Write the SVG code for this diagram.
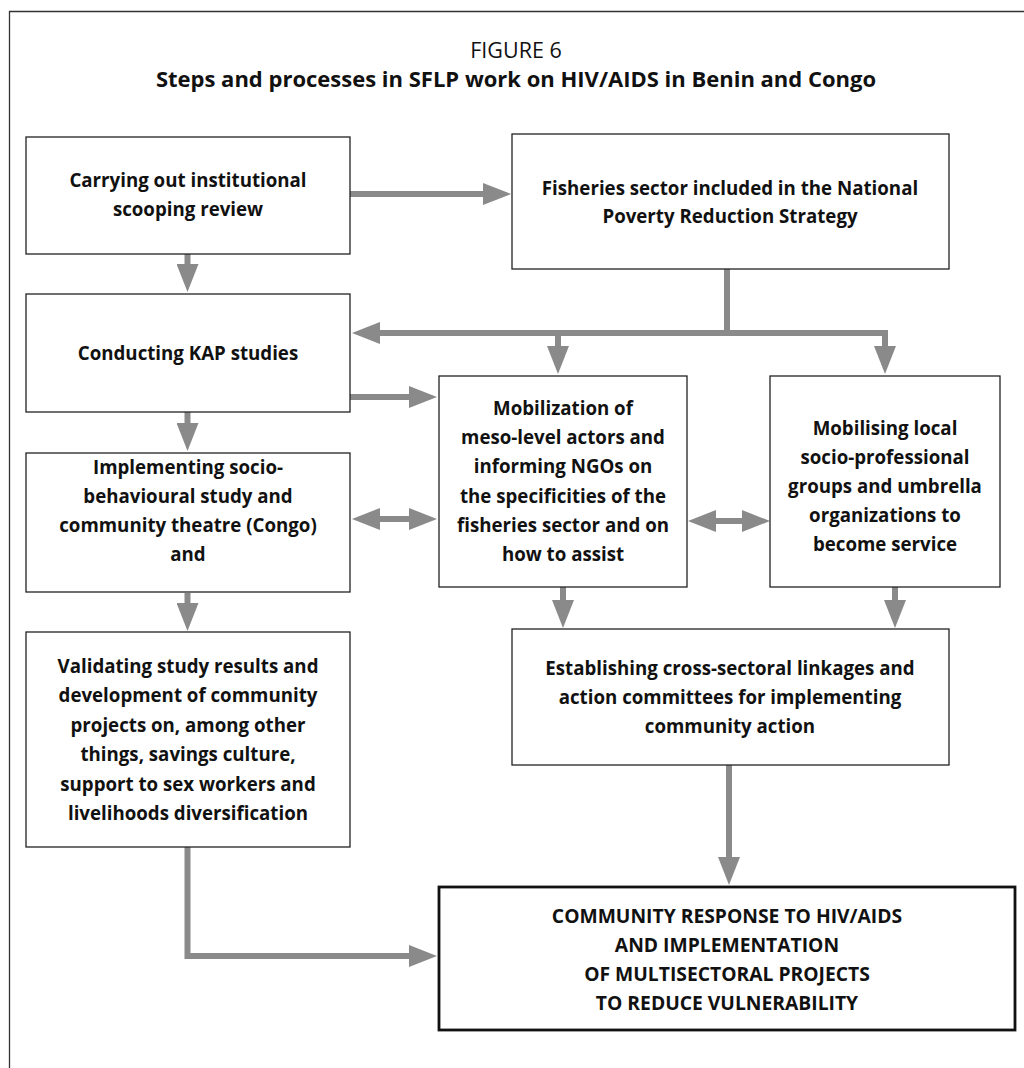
<svg xmlns="http://www.w3.org/2000/svg" width="1024" height="1068" viewBox="0 0 1024 1068">
  <style>
    .box { fill: #ffffff; stroke: #222222; stroke-width: 1.3; }
    .box-main { fill: #ffffff; stroke: #111111; stroke-width: 2.8; }
    .lbl { font-family: "Open Sans", "Noto Sans", "Liberation Sans", sans-serif; font-size: 18.7px; font-weight: bold; fill: #111111; text-anchor: middle; }
    .caps { font-size: 19.3px; }
    .title { font-family: "Open Sans", "Noto Sans", "Liberation Sans", sans-serif; fill: #111111; text-anchor: middle; }
    .conn { fill: none; stroke: #8a8a8a; stroke-width: 6; stroke-linejoin: miter; }
  </style>
  <defs>
    <marker id="head" markerUnits="userSpaceOnUse" markerWidth="28" markerHeight="22" refX="0" refY="11" orient="auto-start-reverse" viewBox="0 0 28 22">
      <path d="M0,0 L28,11 L0,22 z" fill="#8a8a8a"/>
    </marker>
  </defs>

  <rect x="0" y="0" width="1024" height="1068" fill="#ffffff"/>

  <!-- outer frame, open to the right and bottom -->
  <path d="M9.5,1070 V11.5 H1026" fill="none" stroke="#333333" stroke-width="1.3"/>

  <!-- heading -->
  <text class="title" x="516" y="58" font-size="21.5">FIGURE 6</text>
  <text class="title" x="516" y="87" font-size="22" font-weight="bold">Steps and processes in SFLP work on HIV/AIDS in Benin and Congo</text>

  <!-- connectors -->
  <g id="connectors">
    <path class="conn" d="M350,194 H483" marker-end="url(#head)"/>
    <path class="conn" d="M187.5,254 V264" marker-end="url(#head)"/>
    <path class="conn" d="M187.5,412 V423" marker-end="url(#head)"/>
    <path class="conn" d="M187.5,593 V603" marker-end="url(#head)"/>
    <path class="conn" d="M727,269 V333"/>
    <path class="conn" d="M380,333 H885 V346" marker-start="url(#head)" marker-end="url(#head)"/>
    <path class="conn" d="M558,333 V346" marker-end="url(#head)"/>
    <path class="conn" d="M350,397 H409" marker-end="url(#head)"/>
    <path class="conn" d="M380,519 H409" marker-start="url(#head)" marker-end="url(#head)"/>
    <path class="conn" d="M716,521 H742" marker-start="url(#head)" marker-end="url(#head)"/>
    <path class="conn" d="M563,587 V600" marker-end="url(#head)"/>
    <path class="conn" d="M895,587 V600" marker-end="url(#head)"/>
    <path class="conn" d="M729,765 V857" marker-end="url(#head)"/>
    <path class="conn" d="M187.5,847 V956 H409" marker-end="url(#head)"/>
  </g>

  <!-- nodes -->
  <g id="node-scoping">
    <rect class="box" x="26" y="137" width="324" height="117"/>
    <text class="lbl" x="188" y="187">Carrying out institutional</text>
    <text class="lbl" x="188" y="216">scooping review</text>
  </g>

  <g id="node-poverty-strategy">
    <rect class="box" x="512" y="134" width="437" height="135"/>
    <text class="lbl" x="730" y="195">Fisheries sector included in the National</text>
    <text class="lbl" x="730" y="223">Poverty Reduction Strategy</text>
  </g>

  <g id="node-kap">
    <rect class="box" x="26" y="294" width="324" height="118"/>
    <text class="lbl" x="188" y="360">Conducting KAP studies</text>
  </g>

  <g id="node-meso">
    <rect class="box" x="439" y="376" width="248" height="211"/>
    <text class="lbl" x="563" y="415">Mobilization of</text>
    <text class="lbl" x="563" y="444">meso-level actors and</text>
    <text class="lbl" x="563" y="473">informing NGOs on</text>
    <text class="lbl" x="563" y="503">the specificities of the</text>
    <text class="lbl" x="563" y="532">fisheries sector and on</text>
    <text class="lbl" x="563" y="561">how to assist</text>
  </g>

  <g id="node-local-groups">
    <rect class="box" x="770" y="376" width="230" height="211"/>
    <text class="lbl" x="885" y="435">Mobilising local</text>
    <text class="lbl" x="885" y="464">socio-professional</text>
    <text class="lbl" x="885" y="493">groups and umbrella</text>
    <text class="lbl" x="885" y="522">organizations to</text>
    <text class="lbl" x="885" y="551">become service</text>
  </g>

  <g id="node-socio-behavioural">
    <rect class="box" x="26" y="453" width="324" height="139"/>
    <text class="lbl" x="188" y="474">Implementing socio-</text>
    <text class="lbl" x="188" y="503">behavioural study and</text>
    <text class="lbl" x="188" y="532">community theatre (Congo)</text>
    <text class="lbl" x="188" y="561">and</text>
  </g>

  <g id="node-cross-sectoral">
    <rect class="box" x="512" y="629" width="437" height="136"/>
    <text class="lbl" x="730" y="675">Establishing cross-sectoral linkages and</text>
    <text class="lbl" x="730" y="704">action committees for implementing</text>
    <text class="lbl" x="730" y="733">community action</text>
  </g>

  <g id="node-validation">
    <rect class="box" x="26" y="632" width="324" height="215"/>
    <text class="lbl" x="188" y="673">Validating study results and</text>
    <text class="lbl" x="188" y="702">development of community</text>
    <text class="lbl" x="188" y="732">projects on, among other</text>
    <text class="lbl" x="188" y="761">things, savings culture,</text>
    <text class="lbl" x="188" y="791">support to sex workers and</text>
    <text class="lbl" x="188" y="820">livelihoods diversification</text>
  </g>

  <g id="node-community-response">
    <rect class="box-main" x="439" y="887" width="576" height="143"/>
    <text class="lbl caps" x="727" y="923">COMMUNITY RESPONSE TO HIV/AIDS</text>
    <text class="lbl caps" x="727" y="952">AND IMPLEMENTATION</text>
    <text class="lbl caps" x="727" y="981">OF MULTISECTORAL PROJECTS</text>
    <text class="lbl caps" x="727" y="1010">TO REDUCE VULNERABILITY</text>
  </g>
</svg>
